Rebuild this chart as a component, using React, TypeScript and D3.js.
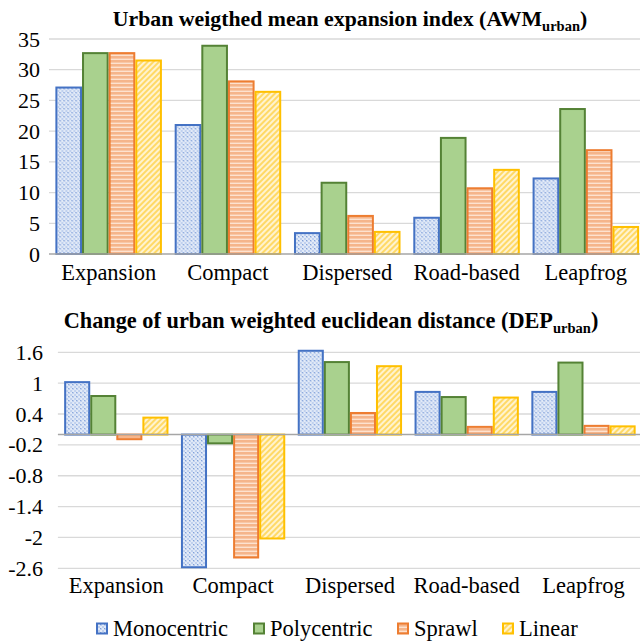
import React, { useEffect, useRef } from 'react';
import * as d3 from 'd3';

const categories = ['Expansion', 'Compact', 'Dispersed', 'Road-based', 'Leapfrog'];
const seriesNames = ['Monocentric', 'Polycentric', 'Sprawl', 'Linear'];

const awmMonocentric = [27.1, 21.0, 3.4, 5.9, 12.3];
const awmPolycentric = [32.7, 33.9, 11.6, 18.9, 23.6];
const awmSprawl = [32.7, 28.1, 6.2, 10.7, 16.9];
const awmLinear = [31.5, 26.4, 3.6, 13.7, 4.4];

const depMonocentric = [1.02, -2.58, 1.63, 0.83, 0.83];
const depPolycentric = [0.75, -0.17, 1.41, 0.73, 1.4];
const depSprawl = [-0.09, -2.39, 0.42, 0.15, 0.17];
const depLinear = [0.33, -2.02, 1.33, 0.72, 0.16];

const awmTicks = [0, 5, 10, 15, 20, 25, 30, 35];
const depTicks = [1.6, 1, 0.4, -0.2, -0.8, -1.4, -2, -2.6];

const strokes = ['#4472C4', '#548235', '#ED7D31', '#FFC000'];
const fills = ['url(#pMono)', '#A9D18E', 'url(#pSprawl)', 'url(#pLinear)'];

const FONT = 'Liberation Serif';

type PanelProps = {
  values: number[][];
  domain: [number, number];
  ticks: number[];
  xRange: [number, number];
  yRange: [number, number];
  labelRight: number;
  catY: number;
};

function Panel(p: PanelProps) {
  const x = d3.scaleBand<string>().domain(categories).range(p.xRange).paddingInner(0.107).paddingOuter(0.0535);
  const xs = d3.scaleBand<string>().domain(seriesNames).range([0, x.bandwidth()]).padding(0);
  const y = d3.scaleLinear().domain(p.domain).range(p.yRange);
  const y0 = y(0);
  return (
    <g>
      {p.ticks.filter((t) => t !== 0).map((t) => (
        <line key={'g' + t} x1={p.xRange[0]} x2={p.xRange[1]} y1={y(t)} y2={y(t)} stroke="#D9D9D9" strokeWidth={1.3} />
      ))}
      {p.ticks.map((t) => (
        <text key={'t' + t} className="ser" x={p.labelRight} y={y(t) + 7.5} textAnchor="end" fontSize={22} fontFamily={FONT}>
          {String(t)}
        </text>
      ))}
      {categories.map((c, ci) => (
        <g key={c} transform={`translate(${x(c)},0)`}>
          {seriesNames.map((s, si) => {
            const v = p.values[si][ci];
            const yt = Math.min(y(v), y0);
            const h = Math.abs(y(v) - y0);
            return (
              <rect key={s} x={xs(s)! + 1} y={yt} width={xs.bandwidth() - 2} height={h} fill={fills[si]} stroke={strokes[si]} strokeWidth={2} />
            );
          })}
        </g>
      ))}
      <line x1={p.xRange[0]} x2={p.xRange[1]} y1={y0} y2={y0} stroke="#A6A6A6" strokeWidth={1.5} />
      {categories.map((c) => (
        <text key={'c' + c} className="ser" x={x(c)! + x.bandwidth() / 2} y={p.catY} textAnchor="middle" fontSize={22.5} fontFamily={FONT}>
          {c}
        </text>
      ))}
    </g>
  );
}

const legendX = [96, 253, 397, 502];

export default function App() {
  const ref = useRef<SVGSVGElement>(null);
  useEffect(() => {
    if (!ref.current) return;
    d3.select(ref.current).selectAll<SVGElement, unknown>('text, tspan').each(function () {
      this.style.setProperty('font-family', "'Liberation Serif', serif", 'important');
    });
  }, []);
  return (
    <svg id="chartsvg" ref={ref} width={640} height={641} style={{ position: 'absolute', left: 0, top: 0 }}>
      <style>{`#chartsvg text, #chartsvg tspan { font-family: 'Liberation Serif', serif !important; }`}</style>
      <defs>
        <pattern id="pMono" width={4} height={4} patternUnits="userSpaceOnUse">
          <rect width={4} height={4} fill="#E2EAF7" />
          <rect x={0} y={0} width={2} height={2} fill="#BFD0EE" />
          <rect x={2} y={2} width={2} height={2} fill="#BFD0EE" />
          <rect x={0} y={0} width={1} height={1} fill="#7F9FD8" />
        </pattern>
        <pattern id="pSprawl" width={4} height={4} patternUnits="userSpaceOnUse">
          <rect width={4} height={4} fill="#FDE2CF" />
          <rect x={0} y={0} width={4} height={2.6} fill="#F5B58B" />
        </pattern>
        <pattern id="pLinear" width={4} height={4} patternUnits="userSpaceOnUse" patternTransform="rotate(45)">
          <rect width={4} height={4} fill="#FFF3CF" />
          <rect x={0} y={0} width={2} height={4} fill="#FFD966" />
        </pattern>
      </defs>
      <rect width={640} height={641} fill="#fff" />

      <text x={350} y={26} textAnchor="middle" fontSize={21.8} fontWeight="bold" fontFamily={FONT}>
        Urban weigthed mean expansion index (AWM
        <tspan fontSize={14.5} dy={5}>urban</tspan>
        <tspan dy={-5}>)</tspan>
      </text>
      <Panel
        values={[awmMonocentric, awmPolycentric, awmSprawl, awmLinear]}
        domain={[0, 35]}
        ticks={awmTicks}
        xRange={[49, 645.5]}
        yRange={[254, 39]}
        labelRight={40}
        catY={280}
      />

      <text x={331} y={328} textAnchor="middle" fontSize={22.3} fontWeight="bold" fontFamily={FONT}>
        Change of urban weighted euclidean distance (DEP
        <tspan fontSize={14.5} dy={5}>urban</tspan>
        <tspan dy={-5}>)</tspan>
      </text>
      <Panel
        values={[depMonocentric, depPolycentric, depSprawl, depLinear]}
        domain={[-2.6, 1.6]}
        ticks={depTicks}
        xRange={[57.9, 641.9]}
        yRange={[568.3, 352.3]}
        labelRight={43}
        catY={593}
      />

      {seriesNames.map((s, i) => (
        <g key={s}>
          <rect x={legendX[i] + 1} y={623.5} width={10} height={10} fill={fills[i]} stroke={strokes[i]} strokeWidth={2} />
          <text className="ser" x={legendX[i] + 17} y={635.5} fontSize={22.5} fontFamily={FONT}>
            {s}
          </text>
        </g>
      ))}
    </svg>
  );
}
